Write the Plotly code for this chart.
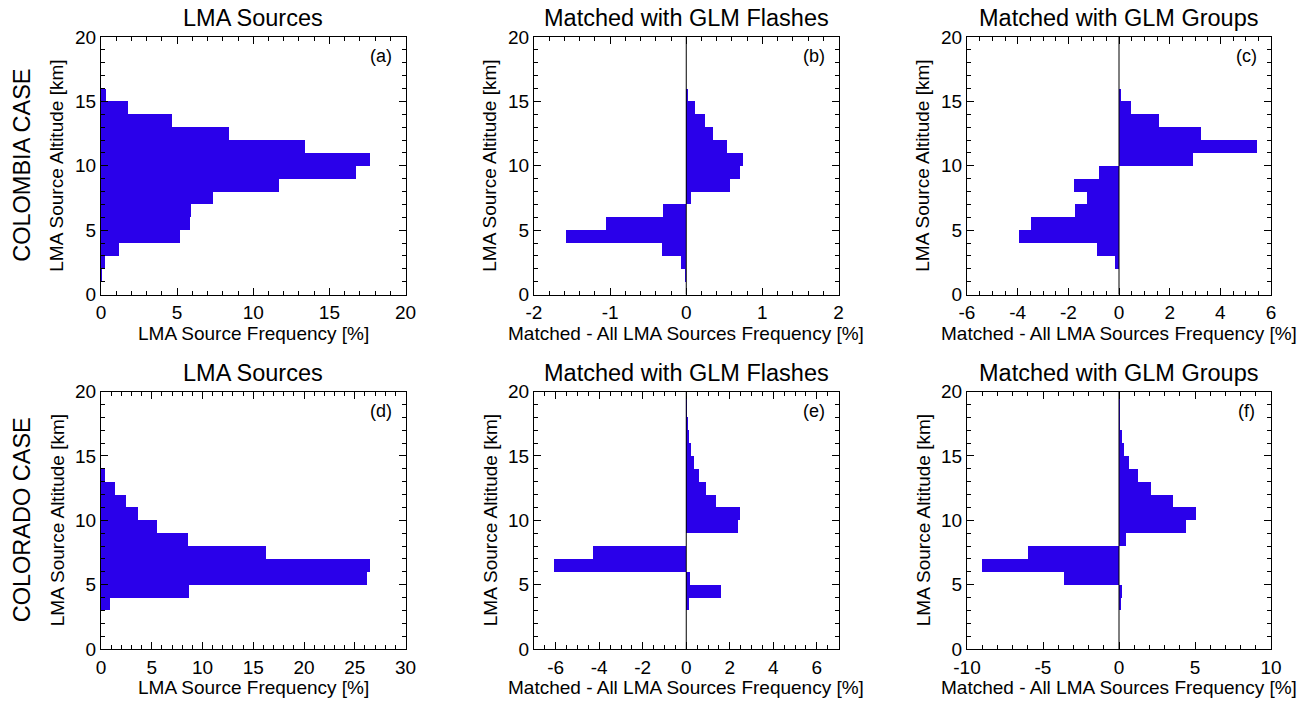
import plotly.graph_objects as go

# ---------------- data ----------------
altitude_km = [k + 0.5 for k in range(20)]  # 1-km altitude bins, centres

lma_colombia = [0.01, 0.05, 0.26, 1.18, 5.19, 5.84, 5.91, 7.33, 11.67, 16.72,
                17.66, 13.39, 8.38, 4.66, 1.75, 0.33, 0.03, 0.02, 0.02, 0.01]
flash_colombia = [0.0, -0.018, -0.066, -0.32, -1.58, -1.05, -0.31, 0.066, 0.57, 0.71,
                  0.75, 0.54, 0.35, 0.24, 0.12, 0.018, 0.0, -0.004, -0.004, -0.004]
group_colombia = [-0.01, 0.0, -0.16, -0.88, -3.93, -3.46, -1.75, -1.25, -1.79, -0.80,
                  2.94, 5.46, 3.25, 1.56, 0.49, 0.09, 0.0, -0.01, -0.01, -0.01]
lma_colorado = [0.01, 0.01, 0.02, 0.89, 8.66, 26.19, 26.49, 16.25, 8.53, 5.51,
                3.61, 2.46, 1.38, 0.39, 0.03, 0.02, 0.02, 0.01, 0.01, 0.01]
flash_colorado = [0.0, 0.0, 0.0, 0.12, 1.61, 0.18, -6.07, -4.28, 0.0, 2.38,
                  2.48, 1.37, 0.90, 0.60, 0.35, 0.23, 0.14, 0.06, 0.05, 0.03]
group_colorado = [0.0, 0.0, 0.0, 0.11, 0.22, -3.65, -8.99, -5.96, 0.48, 4.40,
                  5.05, 3.52, 2.09, 1.23, 0.64, 0.31, 0.22, 0.05, 0.04, 0.04]

panel_titles = ["LMA Sources", "Matched with GLM Flashes", "Matched with GLM Groups"]
row_labels = ["COLOMBIA CASE", "COLORADO CASE"]
panel_tags = ["(a)", "(b)", "(c)", "(d)", "(e)", "(f)"]
x_titles = ["LMA Source Frequency [%]", "Matched - All LMA Sources Frequency [%]",
            "Matched - All LMA Sources Frequency [%]"]
y_title = "LMA Source Altitude [km]"

x_ticks = [
    [0, 5, 10, 15, 20],
    [-2, -1, 0, 1, 2],
    [-6, -4, -2, 0, 2, 4, 6],
    [0, 5, 10, 15, 20, 25, 30],
    [-6, -4, -2, 0, 2, 4, 6],
    [-10, -5, 0, 5, 10],
]
x_ranges = [[0, 20], [-2, 2], [-6, 6], [0, 30], [-7, 7], [-10, 10]]
x_minor = [1, 0.2, 0.5, 1, 0.5, 1]
y_ticks = [0, 5, 10, 15, 20]

series = [lma_colombia, flash_colombia, group_colombia,
          lma_colorado, flash_colorado, group_colorado]

# ---------------- layout geometry (pixels, window coordinates) ----------------
W, H = 1308, 701
col_px = [(101, 405.5), (534, 838.5), (967, 1271)]
row_px = [(37, 294.5), (391.5, 649)]

FONT = "Liberation Sans, Arial, Helvetica, sans-serif"
BAR = "rgb(42,0,234)"

def px2x(p):
    return p / W

def py2y(p):
    return 1 - p / H

fig = go.Figure()
annotations = []
shapes = []
layout = {}

for i in range(6):
    r, c = divmod(i, 3)
    n = i + 1
    xa = "x" if n == 1 else f"x{n}"
    ya = "y" if n == 1 else f"y{n}"
    fig.add_trace(go.Bar(
        x=series[i], y=altitude_km, orientation="h", width=1.0,
        marker=dict(color=BAR, line=dict(width=0)),
        xaxis=xa, yaxis=ya, showlegend=False,
    ))
    xkey = "xaxis" if n == 1 else f"xaxis{n}"
    ykey = "yaxis" if n == 1 else f"yaxis{n}"
    tick_common = dict(
        ticks="inside", ticklen=7, tickwidth=1, tickcolor="black",
        showline=True, linecolor="black", linewidth=1, mirror="allticks",
        showgrid=False, zeroline=False, automargin=False,
        tickfont=dict(family=FONT, size=19, color="black"),
    )
    layout[xkey] = dict(
        domain=[px2x(col_px[c][0]), px2x(col_px[c][1])],
        anchor=ya, range=x_ranges[i],
        tickvals=x_ticks[i], ticktext=[str(v) for v in x_ticks[i]],
        minor=dict(dtick=x_minor[i], tick0=0, ticks="inside", ticklen=4,
                   tickcolor="black", tickwidth=1, showgrid=False),
        ticklabelstandoff=1,
        **tick_common,
    )
    layout[ykey] = dict(
        domain=[py2y(row_px[r][1]), py2y(row_px[r][0])],
        anchor=xa, range=[0, 20],
        tickvals=y_ticks, ticktext=[str(v) for v in y_ticks],
        minor=dict(dtick=1, tick0=0, ticks="inside", ticklen=4,
                   tickcolor="black", tickwidth=1, showgrid=False),
        ticklabelstandoff=0,
        **tick_common,
    )
    xc = (col_px[c][0] + col_px[c][1]) / 2
    yc = (row_px[r][0] + row_px[r][1]) / 2
    # panel title
    annotations.append(dict(
        text=panel_titles[c], x=px2x(xc), y=py2y(row_px[r][0] - 19),
        xref="paper", yref="paper", showarrow=False,
        xanchor="center", yanchor="middle",
        font=dict(family=FONT, size=23.5, color="black")))
    # x title
    annotations.append(dict(
        text=x_titles[c], x=px2x(xc), y=py2y(row_px[r][1] + 38.5),
        xref="paper", yref="paper", showarrow=False,
        xanchor="center", yanchor="middle",
        font=dict(family=FONT, size=19, color="black")))
    # y title
    annotations.append(dict(
        text=y_title, x=px2x(col_px[c][0] - 44), y=py2y(yc),
        xref="paper", yref="paper", showarrow=False, textangle=-90,
        xanchor="center", yanchor="middle",
        font=dict(family=FONT, size=19, color="black")))
    # panel tag
    annotations.append(dict(
        text=panel_tags[i], x=px2x(col_px[c][1] - 24.5), y=py2y(row_px[r][0] + 19),
        xref="paper", yref="paper", showarrow=False,
        xanchor="center", yanchor="middle",
        font=dict(family=FONT, size=18, color="black")))
    # vertical zero line for difference panels
    if c > 0:
        shapes.append(dict(
            type="line", xref=xa, yref=f"{ya} domain",
            x0=0, x1=0, y0=0, y1=1, layer="above",
            line=dict(color="black", width=1)))

for r in range(2):
    yc = (row_px[r][0] + row_px[r][1]) / 2
    annotations.append(dict(
        text=row_labels[r], x=px2x(22), y=py2y(yc),
        xref="paper", yref="paper", showarrow=False, textangle=-90,
        xanchor="center", yanchor="middle",
        font=dict(family=FONT, size=23.5, color="black")))

fig.update_layout(
    width=W, height=H,
    margin=dict(l=0, r=0, t=0, b=0, pad=0, autoexpand=False),
    paper_bgcolor="white", plot_bgcolor="white",
    bargap=0, barmode="overlay",
    annotations=annotations, shapes=shapes,
    font=dict(family=FONT, color="black"),
    hovermode=False,
    **layout,
)

fig.write_html(
    "out.html",
    config={"displayModeBar": False, "staticPlot": True},
    post_script="document.body.style.margin='0';document.body.style.overflow='hidden';",
)
